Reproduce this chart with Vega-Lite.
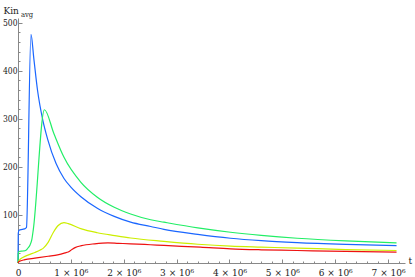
{
  "$schema": "https://vega.github.io/schema/vega-lite/v6.json",
  "width": 387,
  "height": 245,
  "autosize": {"type": "none"},
  "padding": {"left": 18, "top": 18, "right": 10, "bottom": 14},
  "background": "white",
  "title": {"text": "avg", "anchor": "start", "frame": "group", "font": "DejaVu Serif Condensed, DejaVu Serif", "fontSize": 7.5, "fontWeight": "normal", "color": "#222222", "dx": 3, "offset": 0, "dy": 19, "baseline": "alphabetic"},
  "config": {"view": {"stroke": null}, "font": "DejaVu Serif Condensed, DejaVu Serif"},
  "data": {"values": [
    {"run": "blue", "t": 0, "kin": 0},
    {"run": "blue", "t": 5000, "kin": 62},
    {"run": "blue", "t": 20000, "kin": 68},
    {"run": "blue", "t": 80000, "kin": 70},
    {"run": "blue", "t": 140000, "kin": 72},
    {"run": "blue", "t": 160000, "kin": 74},
    {"run": "blue", "t": 245000, "kin": 476},
    {"run": "blue", "t": 300000, "kin": 425},
    {"run": "blue", "t": 370000, "kin": 359},
    {"run": "blue", "t": 470000, "kin": 297},
    {"run": "blue", "t": 560000, "kin": 258},
    {"run": "blue", "t": 720000, "kin": 207},
    {"run": "blue", "t": 870000, "kin": 176},
    {"run": "blue", "t": 1000000, "kin": 158},
    {"run": "blue", "t": 1190000, "kin": 138},
    {"run": "blue", "t": 1500000, "kin": 114},
    {"run": "blue", "t": 1820000, "kin": 97},
    {"run": "blue", "t": 2130000, "kin": 85},
    {"run": "blue", "t": 2510000, "kin": 76},
    {"run": "blue", "t": 2760000, "kin": 70},
    {"run": "blue", "t": 3400000, "kin": 59.5},
    {"run": "blue", "t": 4020000, "kin": 51.5},
    {"run": "blue", "t": 4600000, "kin": 46.5},
    {"run": "blue", "t": 5280000, "kin": 42.5},
    {"run": "blue", "t": 6200000, "kin": 38.8},
    {"run": "blue", "t": 7160000, "kin": 36},
    {"run": "green", "t": 0, "kin": 0},
    {"run": "green", "t": 5000, "kin": 20},
    {"run": "green", "t": 20000, "kin": 24},
    {"run": "green", "t": 100000, "kin": 25},
    {"run": "green", "t": 145000, "kin": 26},
    {"run": "green", "t": 180000, "kin": 30},
    {"run": "green", "t": 230000, "kin": 38},
    {"run": "green", "t": 260000, "kin": 48},
    {"run": "green", "t": 290000, "kin": 70},
    {"run": "green", "t": 500000, "kin": 319},
    {"run": "green", "t": 680000, "kin": 269},
    {"run": "green", "t": 870000, "kin": 220},
    {"run": "green", "t": 1190000, "kin": 168},
    {"run": "green", "t": 1500000, "kin": 137},
    {"run": "green", "t": 1820000, "kin": 116},
    {"run": "green", "t": 2130000, "kin": 102},
    {"run": "green", "t": 2510000, "kin": 90},
    {"run": "green", "t": 2760000, "kin": 85},
    {"run": "green", "t": 3400000, "kin": 73},
    {"run": "green", "t": 4020000, "kin": 64},
    {"run": "green", "t": 4600000, "kin": 57.5},
    {"run": "green", "t": 5280000, "kin": 51.5},
    {"run": "green", "t": 6200000, "kin": 46},
    {"run": "green", "t": 7160000, "kin": 42},
    {"run": "yellow", "t": 0, "kin": 0},
    {"run": "yellow", "t": 20000, "kin": 5},
    {"run": "yellow", "t": 100000, "kin": 12},
    {"run": "yellow", "t": 200000, "kin": 17},
    {"run": "yellow", "t": 320000, "kin": 22},
    {"run": "yellow", "t": 420000, "kin": 27},
    {"run": "yellow", "t": 480000, "kin": 31},
    {"run": "yellow", "t": 570000, "kin": 43},
    {"run": "yellow", "t": 670000, "kin": 64},
    {"run": "yellow", "t": 760000, "kin": 78},
    {"run": "yellow", "t": 870000, "kin": 84},
    {"run": "yellow", "t": 950000, "kin": 82},
    {"run": "yellow", "t": 1200000, "kin": 71},
    {"run": "yellow", "t": 1500000, "kin": 63},
    {"run": "yellow", "t": 1830000, "kin": 57},
    {"run": "yellow", "t": 2130000, "kin": 52},
    {"run": "yellow", "t": 2760000, "kin": 45},
    {"run": "yellow", "t": 3400000, "kin": 39},
    {"run": "yellow", "t": 4020000, "kin": 35},
    {"run": "yellow", "t": 4600000, "kin": 33},
    {"run": "yellow", "t": 5280000, "kin": 31},
    {"run": "yellow", "t": 6200000, "kin": 28},
    {"run": "yellow", "t": 7160000, "kin": 26},
    {"run": "red", "t": 0, "kin": 0},
    {"run": "red", "t": 20000, "kin": 3},
    {"run": "red", "t": 130000, "kin": 7},
    {"run": "red", "t": 320000, "kin": 10},
    {"run": "red", "t": 570000, "kin": 14},
    {"run": "red", "t": 750000, "kin": 17},
    {"run": "red", "t": 890000, "kin": 21},
    {"run": "red", "t": 950000, "kin": 23},
    {"run": "red", "t": 1020000, "kin": 28},
    {"run": "red", "t": 1080000, "kin": 32},
    {"run": "red", "t": 1200000, "kin": 36},
    {"run": "red", "t": 1450000, "kin": 40},
    {"run": "red", "t": 1700000, "kin": 42},
    {"run": "red", "t": 1900000, "kin": 41},
    {"run": "red", "t": 2130000, "kin": 40},
    {"run": "red", "t": 2500000, "kin": 38},
    {"run": "red", "t": 2760000, "kin": 36.5},
    {"run": "red", "t": 3450000, "kin": 33},
    {"run": "red", "t": 4020000, "kin": 29.5},
    {"run": "red", "t": 4600000, "kin": 27.5},
    {"run": "red", "t": 5280000, "kin": 26},
    {"run": "red", "t": 6200000, "kin": 24},
    {"run": "red", "t": 7160000, "kin": 22.5}
  ]},
  "mark": {"type": "line", "strokeWidth": 1.2, "interpolate": "monotone"},
  "encoding": {
    "x": {
      "field": "t", "type": "quantitative",
      "scale": {"domain": [0, 7320000], "nice": false},
      "axis": {
        "values": [0,200000,400000,600000,800000,1000000,1200000,1400000,1600000,1800000,2000000,2200000,2400000,2600000,2800000,3000000,3200000,3400000,3600000,3800000,4000000,4200000,4400000,4600000,4800000,5000000,5200000,5400000,5600000,5800000,6000000,6200000,6400000,6600000,6800000,7000000,7200000],
        "labelExpr": "datum.value === 0 ? '0' : (datum.value % 1000000 === 0 ? (datum.value / 1000000) + ' × 10⁶' : '')",
        "labelOverlap": false, "labelFlush": false,
        "labelFontSize": 10, "labelColor": "#222222",
        "labelPadding": 8,
        "tickSize": {"condition": {"test": "datum.value % 1000000 === 0", "value": -4}, "value": -2},
        "tickColor": "#888888", "domainColor": "#888888", "grid": false,
        "title": "t", "titleFontSize": 10, "titleFontWeight": "normal", "titleColor": "#222222",
        "titleAngle": 0, "titleAlign": "left", "titleBaseline": "middle", "titleX": 390, "titleY": -3
      }
    },
    "y": {
      "field": "kin", "type": "quantitative",
      "scale": {"domain": [0, 510], "nice": false},
      "axis": {
        "values": [0,20,40,60,80,100,120,140,160,180,200,220,240,260,280,300,320,340,360,380,400,420,440,460,480,500],
        "labelExpr": "datum.value % 100 === 0 && datum.value > 0 ? datum.value : ''",
        "labelOverlap": false, "labelFlush": false,
        "labelFontSize": 8.5, "labelColor": "#222222",
        "labelPadding": 5,
        "tickSize": {"condition": {"test": "datum.value % 100 === 0", "value": -4}, "value": -2},
        "tickColor": "#888888", "domainColor": "#888888", "grid": false,
        "title": "Kin", "titleFontSize": 10, "titleFontWeight": "normal", "titleColor": "#222222",
        "titleAngle": 0, "titleAlign": "left", "titleBaseline": "alphabetic", "titleX": -15, "titleY": -5
      }
    },
    "color": {
      "field": "run", "type": "nominal",
      "scale": {"domain": ["blue", "green", "yellow", "red"], "range": ["#1a66ff", "#22ee66", "#ccee00", "#ee1111"]},
      "legend": null
    }
  }
}
